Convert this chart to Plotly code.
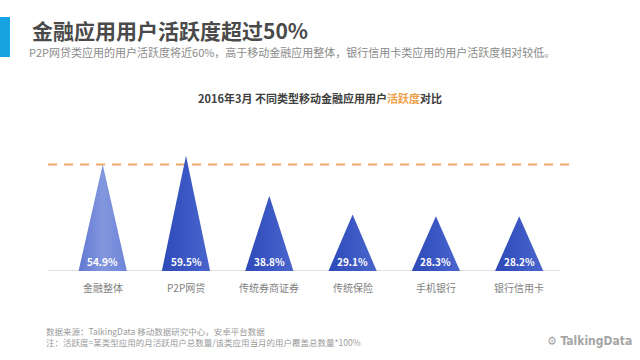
import plotly.graph_objects as go

categories = ["金融整体", "P2P网贷", "传统券商证券", "传统保险", "手机银行", "银行信用卡"]
values = [54.9, 59.5, 38.8, 29.1, 28.3, 28.2]
value_labels = ["54.9%", "59.5%", "38.8%", "29.1%", "28.3%", "28.2%"]
reference_value = 54.9

FONT = "Noto Sans CJK SC"
L, R, T, B = 48, 65, 143, 89
PW, PH = 640 - L - R, 360 - T - B


def px(x):
    return (x - L) / PW


def py(y):
    return (360 - B - y) / PH


fig = go.Figure()

half = 0.29
for i, (c, v) in enumerate(zip(categories, values)):
    if i == 0:
        cs = [[0, "#6178d3"], [0.5, "#8397de"], [1, "#6e84d8"]]
    else:
        cs = [[0, "#2e4ab8"], [0.5, "#3b57c3"], [1, "#4a66cd"]]
    fig.add_trace(go.Scatter(
        x=[i - half, i, i + half, i - half],
        y=[0, v, 0, 0],
        mode="lines",
        fill="toself",
        line=dict(width=0, color=cs[1][1]),
        fillgradient=dict(type="horizontal", colorscale=cs),
        hoverinfo="skip",
        showlegend=False,
    ))

annotations = []
for i, (c, lab) in enumerate(zip(categories, value_labels)):
    annotations.append(dict(
        x=i, y=0, xref="x", yref="y", text=f"<b>{lab}</b>", showarrow=False,
        yshift=10, font=dict(family=FONT, size=10, color="white"),
        xanchor="center", yanchor="middle"))
    annotations.append(dict(
        x=i, y=0, xref="x", yref="y", text=c, showarrow=False,
        yshift=-16, font=dict(family=FONT, size=10, color="#7f7f7f"),
        xanchor="center", yanchor="middle"))

annotations += [
    dict(x=px(30), y=py(30), xref="paper", yref="paper",
         text="<b>金融应用用户活跃度超过50%</b>", showarrow=False,
         xanchor="left", yanchor="middle",
         font=dict(family=FONT, size=21, color="#4a4a4a")),
    dict(x=px(27), y=py(52), xref="paper", yref="paper",
         text="P2P网贷类应用的用户活跃度将近60%，高于移动金融应用整体，银行信用卡类应用的用户活跃度相对较低。",
         showarrow=False, xanchor="left", yanchor="middle",
         font=dict(family=FONT, size=11, color="#8a8a8a")),
    dict(x=px(320), y=py(98), xref="paper", yref="paper",
         text="<b>2016年3月 不同类型移动金融应用用户<span style='color:#eea04a'>活跃度</span>对比</b>",
         showarrow=False, xanchor="center", yanchor="middle",
         font=dict(family=FONT, size=11, color="#404040")),
    dict(x=px(44), y=py(331), xref="paper", yref="paper",
         text="数据来源：TalkingData 移动数据研究中心，安卓平台数据",
         showarrow=False, xanchor="left", yanchor="middle",
         font=dict(family=FONT, size=8.5, color="#9a9a9a")),
    dict(x=px(44), y=py(342), xref="paper", yref="paper",
         text="注：活跃度=某类型应用的月活跃用户总数量/该类应用当月的用户覆盖总数量*100%",
         showarrow=False, xanchor="left", yanchor="middle",
         font=dict(family=FONT, size=8.5, color="#9a9a9a")),
    dict(x=px(634), y=py(341), xref="paper", yref="paper",
         text="<b>⚙ TalkingData</b>",
         showarrow=False, xanchor="right", yanchor="middle",
         font=dict(family="DejaVu Sans Condensed", size=12, color="#a5a5a5")),
]

shapes = [
    dict(type="rect", xref="paper", yref="paper",
         x0=px(0), x1=px(10), y0=py(17), y1=py(57),
         fillcolor="#17a3e2", line=dict(width=0), layer="above"),
    dict(type="line", xref="x", yref="y", x0=-0.657, x1=5.49, y0=0, y1=0,
         line=dict(color="#c4c4c4", width=1.2), layer="below"),
    dict(type="line", xref="x", yref="y", x0=-0.657, x1=5.67,
         y0=reference_value, y1=reference_value,
         line=dict(color="#eba868", width=2, dash="9px,7px"), layer="below"),
]

fig.update_layout(
    width=640, height=360,
    margin=dict(l=L, r=R, t=T, b=B),
    paper_bgcolor="white", plot_bgcolor="white",
    xaxis=dict(range=[-0.657, 5.67], visible=False, fixedrange=True),
    yaxis=dict(range=[0, PH / 1.938], visible=False, fixedrange=True),
    annotations=annotations,
    shapes=shapes,
    showlegend=False,
)

fig.write_html("out.html")
